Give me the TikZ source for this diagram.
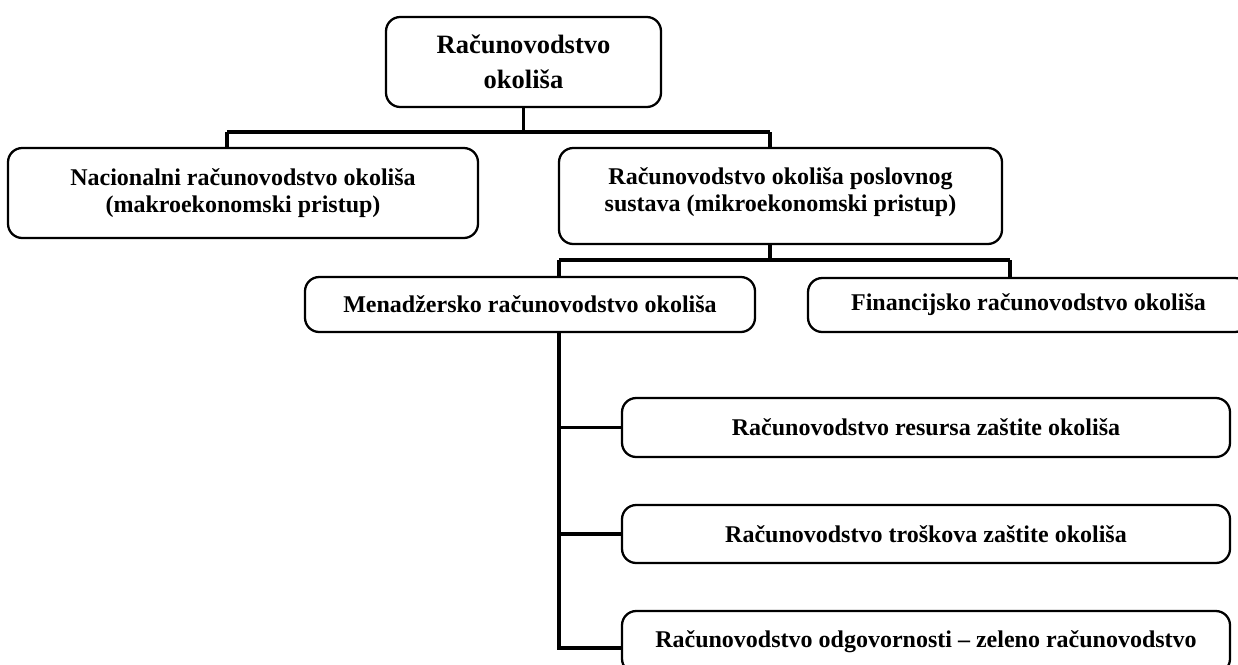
\documentclass[tikz,border=0pt]{standalone}
\usepackage{fontspec}
\setmainfont{Liberation Serif}
\newcommand\pu{0.1757mm}

\begin{document}
\begin{tikzpicture}[x=0.1757mm, y=-0.1757mm,
    box/.style={draw, black, line width=0.4mm, rounded corners=2.5mm, align=center,
                inner sep=0pt, font=\bfseries\fontsize{12}{13.5}\selectfont},
    link/.style={line width=0.55mm, black},
    bus/.style={line width=0.75mm, black}]

  \useasboundingbox (0,0) rectangle (1238,664);

  % Boxes:
  \node[box, minimum width=275*\pu, minimum height=90*\pu,
        font=\bfseries\fontsize{13.25}{17.5}\selectfont] (top) at (523.5,62) {Računovodstvo\\okoliša};
  \node[box, minimum width=470*\pu, minimum height=90*\pu] (nac) at (243,193)
        {Nacionalni računovodstvo okoliša\\(makroekonomski pristup)};
  \node[box, minimum width=443*\pu, minimum height=96*\pu] (mikro) at (780.5,196)
        {Računovodstvo okoliša poslovnog\\sustava (mikroekonomski pristup)\\[-1.2ex]};
  \node[box, minimum width=450*\pu, minimum height=55*\pu] (men) at (530,304.5)
        {Menadžersko računovodstvo okoliša};
  \node[box, minimum width=441*\pu, minimum height=54*\pu] (fin) at (1028.5,305)
        {Financijsko računovodstvo okoliša};
  \node[box, minimum width=608*\pu, minimum height=59*\pu] (res) at (926,427.5)
        {Računovodstvo resursa zaštite okoliša};
  \node[box, minimum width=608*\pu, minimum height=58*\pu] (tro) at (926,534)
        {Računovodstvo troškova zaštite okoliša};
  \node[box, minimum width=608*\pu, minimum height=62*\pu] (odg) at (926,642)
        {Računovodstvo odgovornosti – zeleno računovodstvo};

  % First level:
  \coordinate (bus1w) at (227,132);
  \coordinate (bus1e) at (770,132);
  \draw[link] (top.south) -- (top.south |- bus1w);
  \draw[bus]  (bus1w) -- (bus1e);
  \draw[link] (bus1w) -- (bus1w |- nac.north);
  \draw[link] (bus1e) -- (bus1e |- mikro.north);

  % Second level:
  \coordinate (bus2w) at (559,260);
  \coordinate (bus2e) at (1010,260);
  \draw[link] (mikro.south -| bus1e) -- (bus1e |- bus2w);
  \draw[link] (bus2w) -- (bus2e);
  \draw[link] (bus2w) -- (bus2w |- men.north);
  \draw[link] (bus2e) -- (bus2e |- fin.north);

  % Third level:
  \coordinate (odgfoot) at (odg.west |- 0,648);
  \draw[link] (men.south -| bus2w) |- (odgfoot);
  \draw[link] (bus2w |- res.west) -- (res.west);
  \draw[link] (bus2w |- tro.west) -- (tro.west);

\end{tikzpicture}
\end{document}
